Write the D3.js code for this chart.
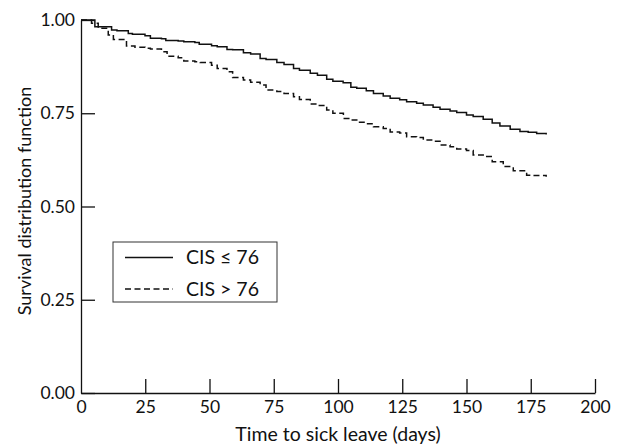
<!DOCTYPE html>
<html>
<head>
<meta charset="utf-8">
<script src="https://cdn.jsdelivr.net/npm/d3@7"></script>
<style>
  body { margin: 0; background: #fff; }
  text { font-family: Lato, "Open Sans", sans-serif; fill: #111; }
</style>
</head>
<body>
<div id="chart"></div>
<script>
// survival estimates (days, S(t))
var daysLow  = [0, 5.4, 11.9, 14, 18.4, 20, 24.9, 27, 31.3, 33, 37.8, 40, 44.3, 46, 50.8, 53, 56.8, 59, 63.2, 66, 69.7, 72, 76.2, 79, 82.7, 85, 89.2, 92, 95.6, 98, 102, 105, 107.3, 111, 113.8, 117.6, 120.3, 124, 126.7, 130.6, 133.2, 137, 139.7, 143.6, 146.2, 150, 152.6, 156.5, 160, 163, 167, 170.8, 174, 177.3, 181];
var survLow  = [1.000, 0.982, 0.973, 0.971, 0.964, 0.962, 0.958, 0.951, 0.950, 0.945, 0.944, 0.942, 0.940, 0.935, 0.931, 0.928, 0.921, 0.920, 0.912, 0.909, 0.897, 0.894, 0.886, 0.881, 0.870, 0.865, 0.857, 0.852, 0.841, 0.836, 0.832, 0.820, 0.817, 0.810, 0.803, 0.796, 0.790, 0.786, 0.781, 0.777, 0.772, 0.766, 0.761, 0.756, 0.752, 0.745, 0.741, 0.734, 0.724, 0.716, 0.707, 0.701, 0.699, 0.696, 0.693];
var daysHigh = [0, 4.1, 6.7, 10.6, 12.6, 17.7, 21, 24.9, 27, 31.3, 33.5, 37.8, 40, 44.3, 46.4, 50.8, 53, 56.8, 59, 63.2, 66, 69.7, 72, 76.2, 79, 82.7, 85, 89.2, 92, 95.6, 98, 102.1, 104.7, 107.3, 111, 113.8, 117.6, 120.3, 124, 126.7, 130.6, 133.2, 137, 139.7, 143.6, 146.2, 150, 152.6, 156.5, 160, 164.3, 168.2, 173.4, 176, 181];
var survHigh = [1.000, 0.991, 0.978, 0.960, 0.948, 0.930, 0.927, 0.924, 0.922, 0.915, 0.903, 0.899, 0.890, 0.888, 0.886, 0.879, 0.870, 0.861, 0.846, 0.839, 0.833, 0.826, 0.812, 0.808, 0.803, 0.794, 0.787, 0.775, 0.771, 0.759, 0.750, 0.736, 0.732, 0.726, 0.722, 0.714, 0.709, 0.700, 0.697, 0.687, 0.685, 0.678, 0.675, 0.665, 0.660, 0.654, 0.650, 0.638, 0.634, 0.620, 0.607, 0.596, 0.584, 0.583, 0.580];
var xTicks = [0, 25, 50, 75, 100, 125, 150, 175, 200];
var yTicks = [0, 0.25, 0.5, 0.75, 1];
var legendLabels = ["CIS \u2264 76", "CIS > 76"];

var svg = d3.select("#chart").append("svg")
    .attr("width", 619)
    .attr("height", 447);

var margin = {t: 20, r: 24, b: 54, l: 81};
var w = 619 - margin.l - margin.r;
var h = 447 - margin.t - margin.b;

var g = svg.append("g").attr("transform", "translate(" + margin.l + "," + margin.t + ")");

var x = d3.scaleLinear().domain([0, 200]).range([0, w]);
var y = d3.scaleLinear().domain([0, 1]).range([h, 0]);

var xAxis = g.append("g")
    .attr("transform", "translate(0," + h + ")")
    .call(d3.axisBottom(x).tickValues(xTicks).tickSizeInner(-14).tickSizeOuter(0).tickPadding(8));
xAxis.selectAll("text").attr("y", 8).style("font-size", "17.5px");

var yAxis = g.append("g")
    .call(d3.axisLeft(y).tickValues(yTicks).tickFormat(d3.format(".2f")).tickSizeInner(-14).tickSizeOuter(0).tickPadding(6));
yAxis.selectAll("text").attr("x", -6).style("font-size", "17.5px");

g.selectAll(".domain, .tick line").attr("stroke", "#111").attr("stroke-width", 1.3);
xAxis.selectAll(".tick").filter(function(d) { return d === 0; }).select("line").remove();

var line = d3.line()
    .x(function(d) { return x(d[0]); })
    .y(function(d) { return y(d[1]); })
    .curve(d3.curveStepAfter);

var series = [
  {pts: d3.zip(daysLow, survLow), dash: null},
  {pts: d3.zip(daysHigh, survHigh), dash: "6,3.5"}
];

g.selectAll(".curve")
  .data(series)
  .enter()
  .append("path")
  .attr("class", "curve")
  .attr("d", function(d) { return line(d.pts); })
  .attr("fill", "none")
  .attr("stroke", "#111")
  .attr("stroke-width", 1.5)
  .attr("stroke-dasharray", function(d) { return d.dash; });

// axis titles
svg.append("text")
  .attr("x", margin.l + w / 2)
  .attr("y", 441)
  .attr("text-anchor", "middle")
  .style("font-size", "19.5px")
  .text("Time to sick leave (days)");

svg.append("text")
  .attr("transform", "translate(31,201) rotate(-90)")
  .attr("text-anchor", "middle")
  .style("font-size", "18px")
  .text("Survival distribution function");

// legend
var lg = svg.append("g").attr("transform", "translate(113,242)");
lg.append("rect")
  .attr("width", 164)
  .attr("height", 60)
  .attr("fill", "#fff")
  .attr("stroke", "#333")
  .attr("stroke-width", 1);

var rows = lg.selectAll(".row")
  .data(legendLabels)
  .enter()
  .append("g")
  .attr("transform", function(d, i) { return "translate(0," + (15.5 + i * 31.5) + ")"; });

rows.append("line")
  .attr("x1", 12).attr("x2", 60)
  .attr("stroke", "#111")
  .attr("stroke-width", 1.3)
  .attr("stroke-dasharray", function(d, i) { return i ? "6,3.5" : null; });

rows.append("text")
  .attr("x", 73)
  .attr("dy", "0.35em")
  .style("font-size", "19.5px")
  .text(function(d) { return d; });
</script>
</body>
</html>
